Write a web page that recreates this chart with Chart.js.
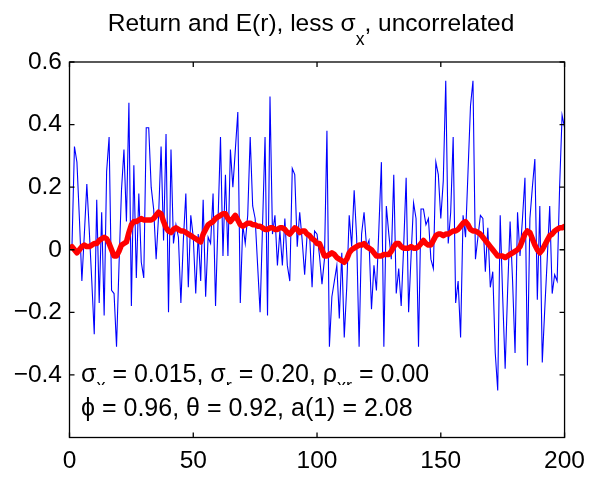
<!DOCTYPE html>
<html>
<head>
<meta charset="utf-8">
<script src="https://cdn.jsdelivr.net/npm/chart.js@4"></script>
<style>
  html, body { margin: 0; padding: 0; background: #fff; }
  canvas { display: block; }
</style>
</head>
<body>
<canvas id="returnChart" width="594" height="477"></canvas>
<script>
// Realised return, periods 1..200 (blue)
const returns = [
  0.01, 0.33, 0.28, 0.10, -0.10, 0.05, 0.21, 0.06, -0.10, -0.27,
  0.16, -0.17, 0.12, -0.21, 0.25, 0.36, -0.13, -0.14, -0.31, -0.05,
  0.19, 0.32, 0.09, 0.47, -0.18, 0.27, -0.09, 0.18, -0.04, -0.09,
  0.39, 0.39, 0.20, 0.13, -0.03, 0.11, 0.33, 0.03, 0.37, -0.20,
  0.32, 0.02, 0.08, 0.04, -0.17, 0.03, 0.18, -0.12, 0.11, 0.04,
  -0.14, 0.05, -0.10, 0.16, -0.15, 0.04, 0.02, 0.18, -0.18, 0.09,
  0.36, -0.02, 0.24, -0.02, 0.32, 0.20, 0.32, 0.44, -0.17, 0.08,
  0.02, 0.11, 0.36, 0.14, 0.10, -0.05, -0.20, 0.08, 0.36, -0.21,
  0.49, 0.05, 0.11, -0.05, 0.06, -0.05, 0.10, -0.05, -0.10, 0.26,
  0.24, 0.01, 0.12, 0.03, -0.08, 0.05, 0.05, -0.12, 0.06, 0.05,
  -0.02, -0.11, -0.03, 0.38, -0.31, -0.15, -0.10, -0.05, -0.22, -0.01,
  -0.28, -0.12, 0.11, 0.01, 0.19, 0.04, -0.31, 0.05, 0.12, 0.01,
  0.03, -0.19, -0.05, -0.13, 0.07, 0.28, -0.31, 0.14, 0.05, -0.03,
  0.24, -0.14, -0.06, -0.18, 0.01, 0.23, -0.20, -0.02, 0.15, 0.10,
  -0.31, 0.13, 0.13, 0.08, 0.10, -0.03, -0.06, 0.28, 0.24, 0.10,
  0.22, 0.54, 0.02, 0.12, 0.36, -0.17, -0.10, -0.28, 0.11, 0.04,
  0.25, 0.46, 0.54, -0.03, 0.04, 0.11, 0.10, -0.07, 0.07, -0.12,
  -0.07, -0.33, -0.45, 0.11, -0.15, -0.38, -0.13, 0.09, -0.10, -0.33,
  0.12, -0.02, 0.10, 0.23, -0.37, 0.10, 0.20, 0.29, -0.16, 0.14,
  -0.36, -0.19, -0.03, 0.14, -0.14, -0.08, -0.10, 0.20, 0.43, 0.39
];

// Expected return E(r), periods 1..200 (red)
const expected = [
  0.01, 0.00, -0.01, 0.00, 0.01, 0.015, 0.01, 0.01, 0.015, 0.02,
  0.02, 0.03, 0.035, 0.04, 0.035, 0.02, 0.00, -0.02, -0.02, -0.005,
  0.015, 0.02, 0.025, 0.055, 0.08, 0.09, 0.09, 0.095, 0.10, 0.095,
  0.095, 0.095, 0.095, 0.10, 0.11, 0.12, 0.115, 0.09, 0.07, 0.06,
  0.055, 0.065, 0.07, 0.065, 0.06, 0.06, 0.055, 0.05, 0.045, 0.04,
  0.035, 0.03, 0.025, 0.05, 0.065, 0.08, 0.085, 0.09, 0.10, 0.105,
  0.11, 0.115, 0.115, 0.10, 0.09, 0.10, 0.11, 0.095, 0.08, 0.075,
  0.08, 0.085, 0.085, 0.08, 0.08, 0.075, 0.075, 0.07, 0.065, 0.065,
  0.07, 0.07, 0.065, 0.065, 0.07, 0.07, 0.065, 0.055, 0.05, 0.06,
  0.07, 0.065, 0.055, 0.06, 0.06, 0.05, 0.045, 0.035, 0.03, 0.02,
  0.02, 0.00, -0.02, -0.02, -0.015, -0.01, -0.015, -0.025, -0.03, -0.035,
  -0.04, -0.03, -0.01, 0.00, 0.005, 0.01, 0.015, 0.015, 0.02, 0.01,
  0.005, 0.00, -0.01, -0.02, -0.02, -0.02, -0.015, -0.015, -0.015, -0.005,
  0.01, 0.02, 0.02, 0.01, 0.005, 0.005, 0.005, 0.01, 0.005, 0.005,
  0.01, 0.02, 0.03, 0.02, 0.015, 0.015, 0.03, 0.045, 0.05, 0.05,
  0.045, 0.05, 0.05, 0.055, 0.06, 0.06, 0.065, 0.075, 0.085, 0.09,
  0.08, 0.065, 0.06, 0.06, 0.055, 0.05, 0.04, 0.03, 0.02, 0.01,
  0.00, -0.01, -0.02, -0.02, -0.02, -0.025, -0.02, -0.015, -0.01, -0.005,
  0.00, 0.01, 0.03, 0.05, 0.06, 0.055, 0.035, 0.015, 0.00, -0.01,
  0.00, 0.015, 0.03, 0.045, 0.05, 0.06, 0.065, 0.07, 0.07, 0.075
];

const xTicks = [0, 50, 100, 150, 200];
const yTicks = [-0.4, -0.2, 0, 0.2, 0.4, 0.6];

const FONT = '"Liberation Sans", Arial, Helvetica, sans-serif';

// points are plotted at period t = 1..200
const toPoints = arr => arr.map((v, i) => ({ x: i + 1, y: v }));

// matlab style box with inward ticks on all four sides
const boxPlugin = {
  id: 'box',
  afterDatasetsDraw(chart) {
    const { ctx, chartArea: a, scales: { x, y } } = chart;
    ctx.save();
    ctx.strokeStyle = '#000';
    ctx.lineWidth = 1.3;
    ctx.strokeRect(a.left, a.top, a.right - a.left, a.bottom - a.top);
    ctx.beginPath();
    xTicks.forEach(t => {
      const px = x.getPixelForValue(t);
      ctx.moveTo(px, a.bottom); ctx.lineTo(px, a.bottom - 5);
      ctx.moveTo(px, a.top); ctx.lineTo(px, a.top + 5);
    });
    yTicks.forEach(t => {
      const py = y.getPixelForValue(t);
      ctx.moveTo(a.left, py); ctx.lineTo(a.left + 5, py);
      ctx.moveTo(a.right, py); ctx.lineTo(a.right - 5, py);
    });
    ctx.stroke();
    ctx.restore();
  }
};

// draws a string made of [text, isSubscript] parts
function drawParts(ctx, parts, x, y, size, subDrop) {
  parts.forEach(([txt, sub]) => {
    ctx.font = (sub ? size * 0.72 : size) + 'px ' + FONT;
    ctx.fillText(txt, x, sub ? y + subDrop : y);
    x += ctx.measureText(txt).width;
  });
  return x;
}

function partsWidth(ctx, parts, size) {
  let w = 0;
  parts.forEach(([txt, sub]) => {
    ctx.font = (sub ? size * 0.72 : size) + 'px ' + FONT;
    w += ctx.measureText(txt).width;
  });
  return w;
}

const textPlugin = {
  id: 'texts',
  afterDraw(chart) {
    const ctx = chart.ctx;
    ctx.save();
    ctx.fillStyle = '#000';
    ctx.textBaseline = 'alphabetic';
    ctx.textAlign = 'left';

    // title
    const title = [['Return and E(r), less \u03c3', false], ['x', true], [', uncorrelated', false]];
    const tw = partsWidth(ctx, title, 24.5);
    drawParts(ctx, title, 311 - tw / 2, 31, 24.5, 14);

    // parameter notes inside the plot
    const line1 = [['\u03c3', false], ['x', true], [' = 0.015, \u03c3', false], ['r', true],
      [' = 0.20, \u03c1', false], ['xr', true], [' = 0.00', false]];
    const line2 = [['\u03d5 = 0.96, \u03b8 = 0.92, a(1) = 2.08', false]];

    const w1 = partsWidth(ctx, line1, 25);
    ctx.fillStyle = '#fff';
    ctx.fillRect(78, 358, w1 + 6, 27);
    ctx.fillStyle = '#000';
    drawParts(ctx, line1, 81, 382, 25, 10);

    const w2 = partsWidth(ctx, line2, 25);
    ctx.fillStyle = '#fff';
    ctx.fillRect(78, 385, w2 + 6, 38);
    ctx.fillStyle = '#000';
    drawParts(ctx, line2, 81, 416, 25, 10);
    ctx.restore();
  }
};

const ctx = document.getElementById('returnChart').getContext('2d');
const returnChart = new Chart(ctx, {
  type: 'line',
  data: {
    datasets: [
      {
        label: 'Return',
        data: toPoints(returns),
        borderColor: '#0000ff',
        borderWidth: 1.1,
        pointRadius: 0,
        tension: 0,
        order: 2
      },
      {
        label: 'E(r)',
        data: toPoints(expected),
        borderColor: '#ff0000',
        borderWidth: 5.5,
        borderJoinStyle: 'round',
        borderCapStyle: 'round',
        pointRadius: 0,
        tension: 0,
        order: 1
      }
    ]
  },
  options: {
    responsive: false,
    animation: false,
    events: [],
    layout: { padding: { top: 62, right: 24, left: 0, bottom: 0 } },
    plugins: {
      legend: { display: false },
      tooltip: { enabled: false },
      title: { display: false }
    },
    scales: {
      x: {
        type: 'linear',
        min: 0,
        max: 200,
        grid: { display: false, drawTicks: false },
        border: { display: false },
        afterBuildTicks: axis => { axis.ticks = xTicks.map(v => ({ value: v })); },
        ticks: {
          color: '#000',
          font: { family: FONT, size: 24.5 },
          padding: 9,
          maxRotation: 0,
          callback: v => String(v)
        },
        afterFit: axis => { axis.height = 39.5; }
      },
      y: {
        min: -0.6,
        max: 0.6,
        grid: { display: false, drawTicks: false },
        border: { display: false },
        afterBuildTicks: axis => { axis.ticks = yTicks.map(v => ({ value: v })); },
        ticks: {
          color: '#000',
          font: { family: FONT, size: 24.5 },
          padding: 7.5,
          callback: v => {
            const r = Math.round(v * 10) / 10;
            if (r === 0) return '0';
            return (r < 0 ? '\u2212' : '') + Math.abs(r).toFixed(1);
          }
        },
        afterFit: axis => { axis.width = 69.5; }
      }
    }
  },
  plugins: [boxPlugin, textPlugin]
});
</script>
</body>
</html>
